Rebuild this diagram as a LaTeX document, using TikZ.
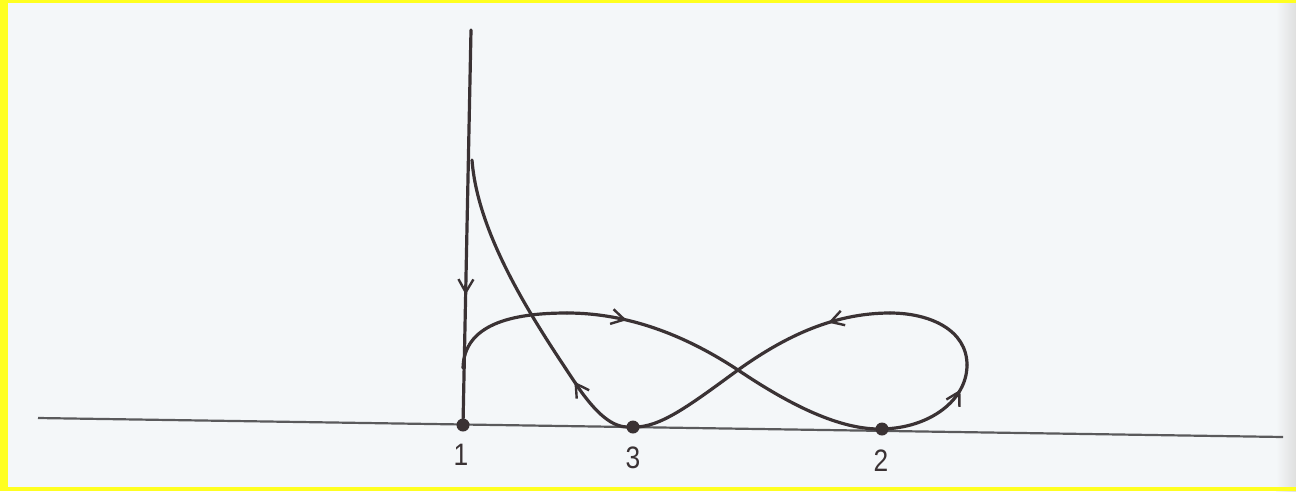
\documentclass[tikz,border=0pt]{standalone}
\usepackage{fontspec}
\setmainfont{Liberation Sans}
\usetikzlibrary{arrows.meta,decorations.markings}
\definecolor{paper}{HTML}{F4F7F9}
\definecolor{ink}{HTML}{3A3234}
\definecolor{axisc}{HTML}{5A5A5C}
\definecolor{frame}{HTML}{FFFF20}
\tikzset{
  curve/.style={ink,line width=3.2pt,line cap=round},
  barb/.style={decoration={markings,mark=at position #1 with {\arrow[ink,line width=2.4pt]{Straight Barb[length=13pt,width=15pt]}}},postaction={decorate}},
  dot/.style={circle,fill=ink,inner sep=0pt,minimum size=13pt},
  lab/.style={font=\fontsize{31}{32}\selectfont,text=ink,xscale=0.85}
}
\begin{document}
\begin{tikzpicture}[x=1pt,y=-1pt]
\useasboundingbox (0,0) rectangle (1296,491);
\fill[paper] (0,0) rectangle (1296,491);
\shade[left color=paper,right color=gray!25] (1276,0) rectangle (1296,491);
\fill[frame] (0,0) rectangle (8,491);
\fill[frame] (0,0) rectangle (1296,3);
\fill[frame] (0,487) rectangle (1296,491);
% coordinates
\coordinate (axL) at (38,418);
\coordinate (axR) at (1283,437);
\coordinate (top) at (471,30);
\coordinate (cusp) at (472,160);
\coordinate (leave) at (463,368);
\coordinate (archL) at (567,313);
\coordinate (cross) at (738,370);
\coordinate (archR) at (890,313);
\coordinate (rightX) at (967,365);
% axis
\draw[axisc,line width=2.2pt] (axL) -- (axR);
% points
\node[dot] (p1) at (463,425) {};
\node[dot] (p3) at (633,427) {};
\node[dot] (p2) at (882,429) {};
\node[lab] (l1) at (461,455) {1};
\node[lab] (l3) at (633,458) {3};
\node[lab] (l2) at (881,461) {2};
% vertical line
\draw[curve,barb=0.67] (top) -- (p1.center);
% cusp branch from 3 up to the cusp
\draw[curve,barb=0.24] (p3.center) .. controls (620,428) and (605,425) .. (580,390)
   .. controls (540,330) and (478,240) .. (cusp);
% figure eight
\draw[curve] (leave) .. controls (464,325) and (510,313) .. (archL);
\draw[curve,barb=0.33] (archL) .. controls (640,313) and (700,345) .. (cross);
\draw[curve] (cross) .. controls (790,405) and (840,430) .. (p2.center);
\draw[curve,barb=0.78] (p2.center) .. controls (930,428) and (967,400) .. (rightX);
\draw[curve] (rightX) .. controls (967,330) and (930,313) .. (archR);
\draw[curve,barb=0.38] (archR) .. controls (830,313) and (780,340) .. (cross);
\draw[curve] (cross) .. controls (690,405) and (660,428) .. (p3.center);
\end{tikzpicture}
\end{document}
